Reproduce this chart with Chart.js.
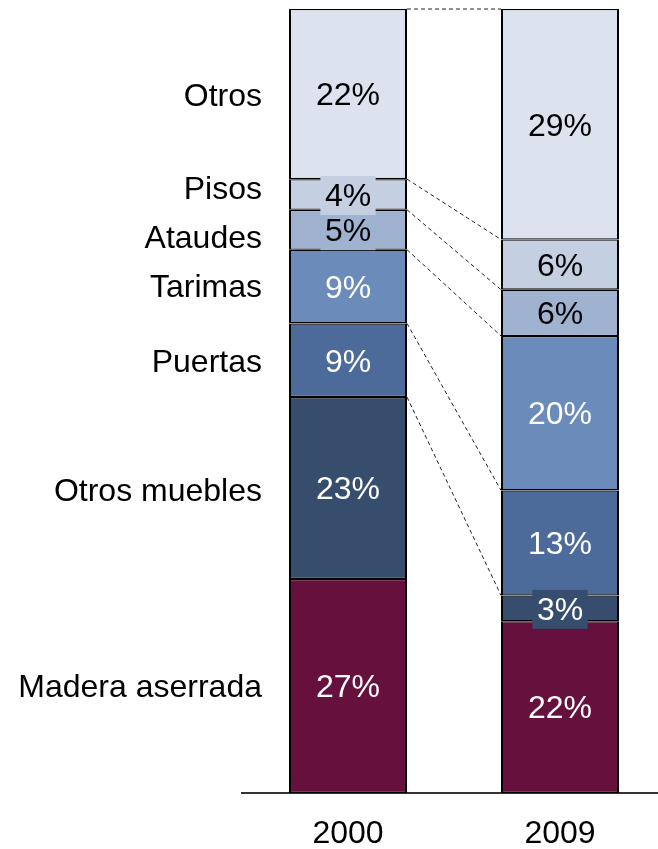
<!DOCTYPE html>
<html>
<head>
<meta charset="utf-8">
<script src="https://cdn.jsdelivr.net/npm/chart.js@4.4.1/dist/chart.umd.min.js"></script>
<style>
  html, body { margin: 0; padding: 0; background: #fff; overflow: hidden; }
  #wrap { width: 658px; height: 849px; overflow: hidden; }
</style>
</head>
<body>
<div id="wrap"><canvas id="chart" width="666" height="867"></canvas></div>
<script>
const years = ['2000', '2009']
// segments from the bottom of the stack to the top
const segments = ['Madera aserrada', 'Otros muebles', 'Puertas', 'Tarimas', 'Ataudes', 'Pisos', 'Otros']
// share (%) of each segment, [2000, 2009]
const maderaAserrada = [27.3, 21.9]
const otrosMuebles = [23.2, 3.3]
const puertas = [9.4, 13.4]
const tarimas = [9.4, 19.7]
const ataudes = [5.1, 5.9]
const pisos = [3.9, 6.4]
const otros = [21.7, 29.4]

const values = [maderaAserrada, otrosMuebles, puertas, tarimas, ataudes, pisos, otros]
const colours = ['#66103e', '#364d6e', '#4d6b9a', '#6b8bba', '#9fb2d0', '#c5cfe2', '#dce3ee']
const textColours = ['#fff', '#fff', '#fff', '#fff', '#000', '#000', '#000']
const FONT = '"Liberation Sans", Arial, sans-serif'

const overlay = {
  id: 'overlay',
  afterDatasetsDraw(chart, args, opts) {
    const ctx = chart.ctx
    const metas = chart.data.datasets.map((d, i) => chart.getDatasetMeta(i))
    const first = metas[0].data[0]
    const second = metas[0].data[1]
    const x0 = first.x + first.width / 2
    const x1 = second.x - second.width / 2

    // dashed lines joining the top of each segment between the two bars
    ctx.save()
    ctx.strokeStyle = '#222'
    ctx.lineWidth = 1
    ctx.setLineDash([4, 3])
    metas.forEach((m, i) => {
      if (i === 0) return
      ctx.beginPath()
      ctx.moveTo(x0, m.data[0].y)
      ctx.lineTo(x1, m.data[1].y)
      ctx.stroke()
    })
    ctx.restore()

    // percentage labels on a box of the segment colour
    ctx.save()
    ctx.font = '32px ' + FONT
    ctx.textAlign = 'center'
    ctx.textBaseline = 'middle'
    metas.forEach((m, i) => {
      m.data.forEach((bar, j) => {
        const text = Math.round(values[i][j]) + '%'
        const cy = (bar.y + bar.base) / 2
        const w = ctx.measureText(text).width + 9
        ctx.fillStyle = colours[i]
        ctx.fillRect(bar.x - w / 2, cy - 18.5, w, 39)
        ctx.fillStyle = textColours[i]
        ctx.fillText(text, bar.x, cy + 2.5)
      })
    })

    // segment names to the left of the first bar
    ctx.fillStyle = '#000'
    ctx.textAlign = 'right'
    metas.forEach((m, i) => {
      const bar = m.data[0]
      const cy = (bar.y + bar.base) / 2 + opts.nudge[i]
      ctx.fillText(segments[i], chart.chartArea.left + 20, cy + 2)
    })
    ctx.restore()
  }
}

new Chart(document.getElementById('chart'), {
  type: 'bar',
  data: {
    labels: years,
    datasets: values.map((v, i) => ({
      label: segments[i],
      data: v,
      backgroundColor: colours[i],
      borderColor: '#000',
      borderWidth: { top: 1.3, bottom: 1.3, left: 2, right: 2 },
      borderSkipped: false,
      barPercentage: 118 / 212,
      categoryPercentage: 1
    }))
  },
  options: {
    responsive: false,
    animation: false,
    layout: { padding: { left: 242, top: 9, right: 0, bottom: 0 } },
    plugins: {
      legend: { display: false },
      tooltip: { enabled: false },
      overlay: { nudge: [0, 2, 1, 0, 7, -6, 1] }
    },
    scales: {
      x: {
        stacked: true,
        grid: { display: false },
        border: { display: true, color: '#333', width: 2 },
        ticks: { color: '#000', padding: 17, font: { family: FONT, size: 32, lineHeight: 1 } }
      },
      y: {
        stacked: true,
        display: false,
        min: 0,
        max: 100
      }
    }
  },
  plugins: [overlay]
})
</script>
</body>
</html>
